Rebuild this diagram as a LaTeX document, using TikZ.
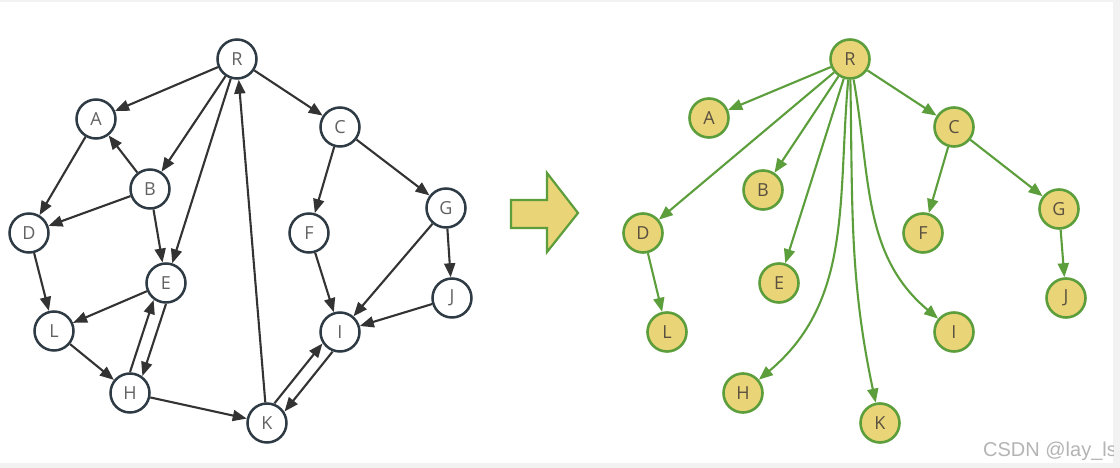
\documentclass[tikz,border=0pt]{standalone}
\usepackage{fontspec}
\setmainfont{Open Sans}
\newfontfamily\wmfont{Liberation Sans}
\usetikzlibrary{arrows.meta,calc}
\definecolor{edgegray}{HTML}{333333}
\definecolor{circgray}{HTML}{2E3B44}
\definecolor{txtgray}{HTML}{626262}
\definecolor{treetxt}{HTML}{5A5040}
\definecolor{treefill}{HTML}{E9D478}
\definecolor{treegreen}{HTML}{5B9E3B}
\definecolor{framegray}{HTML}{F2F2F2}
\definecolor{wmgray}{HTML}{B4B4B4}
\begin{document}
\begin{tikzpicture}[x=1pt,y=-1pt,
  gnode/.style={circle,draw=circgray,line width=2.5pt,fill=white,minimum size=39pt,inner sep=0pt,text=txtgray,font=\fontsize{18}{18}\selectfont},
  tnode/.style={circle,draw=treegreen,line width=2.6pt,fill=treefill,minimum size=39pt,inner sep=0pt,text=treetxt,font=\fontsize{18}{18}\selectfont},
  garr/.style={draw=edgegray,line width=2.1pt,-{Triangle[length=14pt,width=11pt]}},
  tarr/.style={draw=treegreen,line width=2.1pt,-{Triangle[length=14pt,width=11pt]}},
  parl/.style={shorten <=20pt,shorten >=20pt},
  bigarrow/.style={fill=treefill,draw=treegreen,line width=2.2pt,line join=miter}
]
\useasboundingbox (0,0) rectangle (1120,468);
\fill[framegray] (0,0) rectangle (1120,468);
\fill[white] (0,2) rectangle (1113,463);

% ---------- left graph ----------
\node[gnode] (R) at (237,59) {R};
\node[gnode] (A) at (96,119) {A};
\node[gnode] (B) at (150,189) {B};
\node[gnode] (D) at (29,233) {D};
\node[gnode] (E) at (166,283) {E};
\node[gnode] (L) at (54,331) {L};
\node[gnode] (H) at (130,393) {H};
\node[gnode] (K) at (267,423) {K};
\node[gnode] (C) at (340,127) {C};
\node[gnode] (F) at (309,233) {F};
\node[gnode] (G) at (446,208) {G};
\node[gnode] (J) at (452,298) {J};
\node[gnode] (I) at (340,332) {I};

\draw[garr] (R) -- (A);
\draw[garr] (R) -- (B);
\draw[garr] (R) -- (E);
\draw[garr] (R) -- (C);
\draw[garr] (K) -- (R);
\draw[garr] (A) -- (D);
\draw[garr] (B) -- (A);
\draw[garr] (B) -- (D);
\draw[garr] (B) -- (E);
\draw[garr] (D) -- (L);
\draw[garr] (E) -- (L);
\draw[garr] (L) -- (H);
\draw[garr] (H) -- (K);
\draw[garr] (C) -- (F);
\draw[garr] (C) -- (G);
\draw[garr] (F) -- (I);
\draw[garr] (G) -- (I);
\draw[garr] (G) -- (J);
\draw[garr] (J) -- (I);
\draw[garr,parl] ($(E)!6.5pt!90:(H)$) -- ($(H)!6.5pt!-90:(E)$);
\draw[garr,parl] ($(H)!6.5pt!90:(E)$) -- ($(E)!6.5pt!-90:(H)$);
\draw[garr,parl] ($(K)!6.5pt!90:(I)$) -- ($(I)!6.5pt!-90:(K)$);
\draw[garr,parl] ($(I)!6.5pt!90:(K)$) -- ($(K)!6.5pt!-90:(I)$);

% ---------- big arrow ----------
\draw[bigarrow] (511,200) -- (547,200) -- (547,173) -- (578,213) -- (547,252) -- (547,228) -- (511,228) -- cycle;

% ---------- right tree ----------
\node[tnode] (tR) at (850,59) {R};
\node[tnode] (tA) at (709,118) {A};
\node[tnode] (tB) at (763,190) {B};
\node[tnode] (tD) at (643,233) {D};
\node[tnode] (tE) at (779,283) {E};
\node[tnode] (tL) at (667,332) {L};
\node[tnode] (tH) at (743,393) {H};
\node[tnode] (tK) at (880,423) {K};
\node[tnode] (tC) at (954,127) {C};
\node[tnode] (tF) at (923,233) {F};
\node[tnode] (tG) at (1059,209) {G};
\node[tnode] (tJ) at (1066,298) {J};
\node[tnode] (tI) at (954,332) {I};

\draw[tarr] (tR) -- (tA);
\draw[tarr] (tR) -- (tB);
\draw[tarr] (tR) -- (tD);
\draw[tarr] (tR) -- (tE);
\draw[tarr] (tR) to[out=-95,in=40] (tH);
\draw[tarr] (tR) to[out=-89,in=102] (tK);
\draw[tarr] (tR) to[out=-80,in=140] (tI);
\draw[tarr] (tR) -- (tC);
\draw[tarr] (tC) -- (tF);
\draw[tarr] (tC) -- (tG);
\draw[tarr] (tD) -- (tL);
\draw[tarr] (tG) -- (tJ);

% ---------- watermark ----------
\begin{scope}
\clip (0,2) rectangle (1113,463);
\node[anchor=base west,inner sep=0pt,text=wmgray,font=\wmfont\fontsize{20}{20}\selectfont] (wm) at (983,456) {CSDN @lay\_ls};
\end{scope}
\end{tikzpicture}
\end{document}
